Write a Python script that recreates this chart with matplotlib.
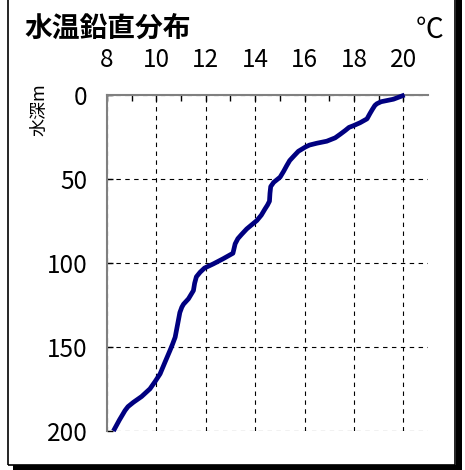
import matplotlib
matplotlib.use("Agg")
import matplotlib.pyplot as plt
from matplotlib.patches import Rectangle

plt.rcParams['font.family'] = ['Noto Sans CJK JP', 'DejaVu Sans']

# data: temperature (°C) vs depth (m)
temperature = [20.05, 19.6, 19.1, 18.93, 18.85, 18.75, 18.65, 18.53, 18.25, 17.99, 17.8, 17.65,
               17.45, 17.24, 16.9, 16.5, 16.2, 16.03, 15.75, 15.55, 15.4, 15.28, 15.15, 15.01,
               14.75, 14.63, 14.6, 14.58, 14.5, 14.4, 14.25, 14.07, 13.66, 13.45, 13.3, 13.19,
               13.1, 12.7, 12.31, 11.95, 11.77, 11.62, 11.55, 11.5, 11.3, 11.1, 11.03, 10.95,
               10.89, 10.76, 10.65, 10.55, 10.35, 10.15, 9.95, 9.74, 9.4, 9.07, 8.85, 8.73,
               8.5, 8.26]
depth = [0, 2.5, 4.0, 5.2, 6.2, 8.5, 11.0, 14.2, 16.5, 18.2, 19.3, 21.1,
         23.3, 25.5, 27.5, 28.7, 29.8, 31.0, 33.5, 36.6, 39.0, 42.0, 45.5, 48.9,
         52.0, 54.5, 58.5, 63.2, 65.5, 67.8, 71.5, 74.7, 79.7, 83.0, 85.5, 88.6,
         94.2, 97.5, 100.5, 103.0, 105.5, 108.2, 112.0, 116.4, 121.3, 124.5, 126.3, 129.5,
         134.2, 144.2, 148.5, 152.1, 159.0, 166.0, 170.5, 174.9, 179.5, 182.9, 185.5, 187.8,
         193.5, 200.0]
x_ticks = [8, 10, 12, 14, 16, 18, 20]
y_ticks = [0, 50, 100, 150, 200]

W, H = 465, 470
fig = plt.figure(figsize=(W / 100, H / 100), dpi=100)
ax = fig.add_axes([107 / W, 1 - 431 / H, (428 - 107) / W, (431 - 95) / H])

ax.plot(temperature, depth, color='#000080', lw=3.4, solid_joinstyle='round',
        solid_capstyle='butt', clip_on=False, zorder=5)

ax.set_xlim(8, 21)
ax.set_ylim(200, 0)
ax.xaxis.tick_top()
ax.set_xticks(x_ticks)
ax.set_xticks(range(9, 21, 2), minor=True)
ax.set_yticks(y_ticks)
ax.tick_params(axis='x', which='major', direction='in', length=4, width=1,
               pad=16, labelsize=17.5, color='black')
ax.tick_params(axis='x', which='minor', direction='in', length=4, width=1, color='black')
ax.tick_params(axis='y', which='major', direction='in', length=4, width=1,
               pad=14, labelsize=17.5, color='black')

ax.grid(True, which='major', color='black', linestyle=(0, (4, 4)), linewidth=0.8)
for s in ['right', 'bottom']:
    ax.spines[s].set_visible(False)
for s in ['top', 'left']:
    ax.spines[s].set_color('#808080')
    ax.spines[s].set_linewidth(1.5)

fig.text(39 / W, 1 - 110 / H, '水深m', fontsize=13, rotation=90,
         ha='center', va='center')
fig.text(24 / W, 1 - 29 / H, '水温鉛直分布', fontsize=20, fontweight='bold',
         ha='left', va='center')
fig.text(443 / W, 1 - 30 / H, '℃', fontsize=20, ha='right', va='center')

# frame with shadow
fig.add_artist(Rectangle((456 / W, 0), 6 / W, 1, transform=fig.transFigure,
                         facecolor='black', edgecolor='none'))
fig.add_artist(Rectangle((13 / W, 0), 449 / W, 5 / H, transform=fig.transFigure,
                         facecolor='black', edgecolor='none'))
fig.add_artist(Rectangle((8 / W, 5 / H), 447 / W, 1.2, transform=fig.transFigure,
                         facecolor='none', edgecolor='black', linewidth=1.2))

fig.savefig('out.png', dpi=100)
